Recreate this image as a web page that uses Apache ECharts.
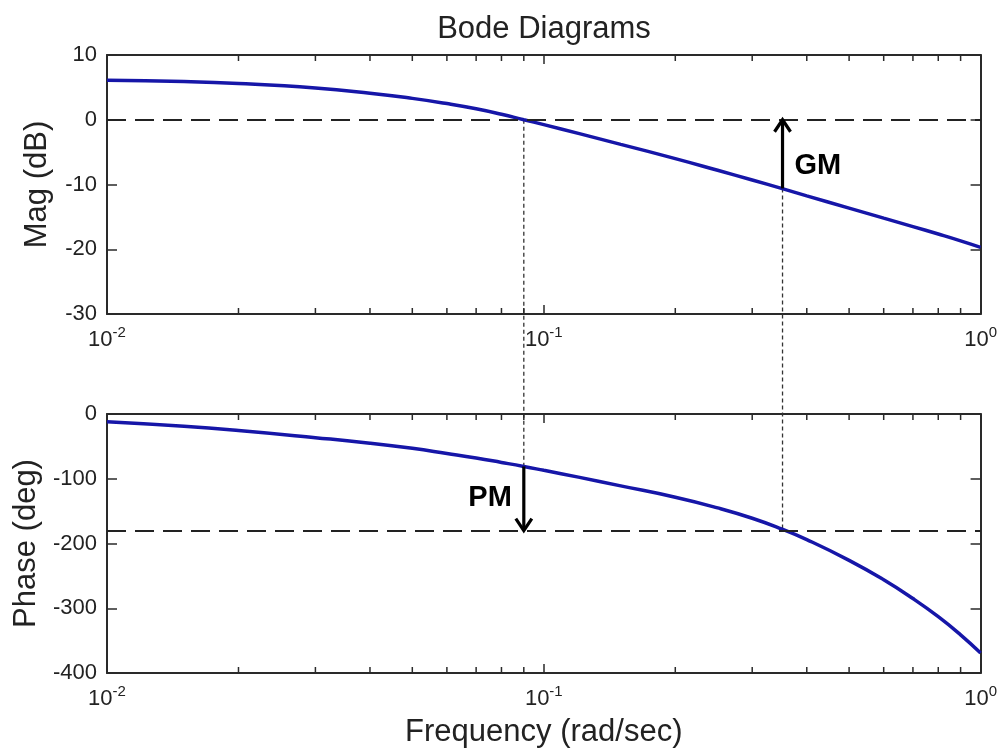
<!DOCTYPE html>
<html><head><meta charset="utf-8">
<script src="https://cdn.jsdelivr.net/npm/echarts@6/dist/echarts.min.js"></script>
<style>html,body{margin:0;padding:0;background:#fff}#c{width:1000px;height:755px}</style>
</head><body><div id="c"></div>
<script>
// ---- data ----
const freq     = [0.01,0.015,0.02,0.03,0.04,0.05,0.06,0.07,0.08,0.09,0.1,0.12,0.15,0.2,0.25,0.3,0.35,0.4,0.5,0.6,0.7,0.8,0.9,1.0];
const magDb    = [6.1,5.9,5.6,4.9,4.1,3.3,2.5,1.7,0.85,0.0,-0.75,-2.1,-3.8,-6.0,-7.8,-9.3,-10.6,-11.75,-13.65,-15.2,-16.5,-17.65,-18.7,-19.7];
const phaseDeg = [-12,-19,-25.5,-36.5,-45,-53,-61,-68,-74.8,-81,-87,-97.5,-111,-128.5,-145,-161,-177.5,-194,-226,-256,-285,-313,-341,-369];
const minorFreqs = [0.02,0.03,0.04,0.05,0.06,0.07,0.08,0.09,0.2,0.3,0.4,0.5,0.6,0.7,0.8,0.9];
const freqTicks  = [0.01, 0.1, 1];
const magTicks   = [-30, -20, -10, 0, 10];
const phaseTicks = [-400, -300, -200, -100, 0];
const refMag = 0, refPhase = -180;
const gcFreq = 0.09;   // gain crossover
const pcFreq = 0.352;  // phase crossover
const gmFrom = -10.6, gmTo = 0;
const pmFrom = -81,   pmTo = -180;
const titleText = 'Bode Diagrams';
const magName = 'Mag (dB)', phaseName = 'Phase (deg)', freqName = 'Frequency (rad/sec)';

const FONT = '"Liberation Sans", Arial, sans-serif';
const FRAME = '#2a2a2a';
const CURVE = '#1616a8';

const magMin = magTicks[0], magMax = magTicks[magTicks.length-1];
const phMin = phaseTicks[0], phMax = phaseTicks[phaseTicks.length-1];
const magInt = magTicks[1]-magTicks[0], phInt = phaseTicks[1]-phaseTicks[0];
const fMin = freqTicks[0], fMax = freqTicks[freqTicks.length-1];

function xAxisDef(grid, pos, labels, name) {
  return {
    type: 'log', logBase: 10, gridIndex: grid, position: pos, min: fMin, max: fMax,
    axisLine: {show: true, onZero: false, lineStyle: {color: FRAME, width: 2}},
    axisTick: {show: true, inside: true, length: 9, lineStyle: {color: FRAME, width: 1.5}},
    splitLine: {show: false},
    axisLabel: labels ? {
      show: true, margin: 11, color: '#222',
      formatter: v => '{b|10}{s|' + Math.round(Math.log10(v)) + '}',
      rich: {
        b: {fontSize: 22, fontFamily: FONT, color: '#222'},
        s: {fontSize: 15, fontFamily: FONT, color: '#222', padding: [0, 0, 14, 0]}
      }
    } : {show: false},
    name: name || '', nameLocation: 'middle', nameGap: 44,
    nameTextStyle: {fontSize: 31, fontFamily: FONT, color: '#222'}
  };
}
function yAxisDef(grid, pos, min, max, interval, labels, name, gap) {
  return {
    type: 'value', gridIndex: grid, position: pos, min, max, interval,
    axisLine: {show: true, onZero: false, lineStyle: {color: FRAME, width: 2}},
    axisTick: {show: true, inside: true, length: 10, lineStyle: {color: FRAME, width: 1.5}},
    splitLine: {show: false},
    axisLabel: labels ? {show: true, margin: 10, fontSize: 22, fontFamily: FONT, color: '#222'} : {show: false},
    name: name || '', nameLocation: 'middle', nameGap: gap || 0, nameRotate: 90,
    nameTextStyle: {fontSize: 31, fontFamily: FONT, color: '#222'}
  };
}
function minorTickSeries(xi, yi, ymin, ymax) {
  return {
    type: 'custom', xAxisIndex: xi, yAxisIndex: yi, silent: true, clip: false, z: 5,
    data: minorFreqs.map(f => [f, ymin]),
    renderItem(params, api) {
      const f = api.value(0);
      const b = api.coord([f, ymin]), t = api.coord([f, ymax]);
      const st = {stroke: FRAME, lineWidth: 1.5};
      return {type: 'group', children: [
        {type: 'line', shape: {x1: b[0], y1: b[1], x2: b[0], y2: b[1] - 6}, style: st},
        {type: 'line', shape: {x1: t[0], y1: t[1], x2: t[0], y2: t[1] + 6}, style: st}
      ]};
    }
  };
}
function arrowSeries(xi, yi, f, from, to, label, side) {
  return {
    type: 'custom', xAxisIndex: xi, yAxisIndex: yi, silent: true, clip: false, z: 6,
    data: [[f, from, to]],
    encode: {x: 0, y: [1, 2]},
    renderItem(params, api) {
      const p0 = api.coord([api.value(0), api.value(1)]);
      const p1 = api.coord([api.value(0), api.value(2)]);
      const dir = p1[1] > p0[1] ? 1 : -1;
      const hl = 12, hw = 8;
      const midY = (p0[1] + p1[1]) / 2;
      const st = {stroke: '#000', lineWidth: 3.2, fill: null};
      return {type: 'group', children: [
        {type: 'line', shape: {x1: p0[0], y1: p0[1], x2: p1[0], y2: p1[1] - dir * 1}, style: st},
        {type: 'polyline', shape: {points: [[p1[0] - hw, p1[1] - dir * hl], [p1[0], p1[1]], [p1[0] + hw, p1[1] - dir * hl]]}, style: st},
        {type: 'text', style: {
          text: label, x: side === 'right' ? p0[0] + 12 : p0[0] - 12,
          y: side === 'right' ? midY + 12 : midY,
          align: side === 'right' ? 'left' : 'right', verticalAlign: 'middle',
          fontSize: 29, fontWeight: 'bold', fontFamily: FONT, fill: '#000'
        }}
      ]};
    }
  };
}

const chart = echarts.init(document.getElementById('c'));
const option = {
  backgroundColor: '#fff',
  animation: false,
  title: {text: titleText, left: 539, top: 9, textAlign: 'center',
          textStyle: {fontSize: 31, fontWeight: 'normal', fontFamily: FONT, color: '#222'}},
  grid: [
    {left: 107, right: 19, top: 55, height: 259, containLabel: false},
    {left: 107, right: 19, top: 414, height: 259, containLabel: false}
  ],
  xAxis: [
    xAxisDef(0, 'bottom', true),
    xAxisDef(0, 'top', false),
    xAxisDef(1, 'bottom', true, freqName),
    xAxisDef(1, 'top', false)
  ],
  yAxis: [
    yAxisDef(0, 'left', magMin, magMax, magInt, true, magName, 54),
    yAxisDef(0, 'right', magMin, magMax, magInt, false),
    yAxisDef(1, 'left', phMin, phMax, phInt, true, phaseName, 63),
    yAxisDef(1, 'right', phMin, phMax, phInt, false)
  ],
  series: [
    {
      type: 'line', xAxisIndex: 0, yAxisIndex: 0, z: 4,
      data: freq.map((f, i) => [f, magDb[i]]),
      smooth: true, showSymbol: false, lineStyle: {color: CURVE, width: 3.5},
      markLine: {silent: true, symbol: 'none', label: {show: false},
        lineStyle: {type: [19, 9], color: '#222', width: 2}, data: [{yAxis: refMag}]}
    },
    {
      type: 'line', xAxisIndex: 2, yAxisIndex: 2, z: 4,
      data: freq.map((f, i) => [f, phaseDeg[i]]),
      smooth: true, showSymbol: false, lineStyle: {color: CURVE, width: 3.5},
      markLine: {silent: true, symbol: 'none', label: {show: false},
        lineStyle: {type: [19, 9], color: '#222', width: 2}, data: [{yAxis: refPhase}]}
    },
    minorTickSeries(0, 0, magMin, magMax),
    minorTickSeries(2, 2, phMin, phMax),
    arrowSeries(0, 0, pcFreq, gmFrom, gmTo, 'GM', 'right'),
    arrowSeries(2, 2, gcFreq, pmFrom, pmTo, 'PM', 'left')
  ]
};
chart.setOption(option);

// dotted verticals spanning both panels, positioned via the axes' scales
const g1a = chart.convertToPixel({xAxisIndex: 0, yAxisIndex: 0}, [gcFreq, refMag]);
const g1b = chart.convertToPixel({xAxisIndex: 2, yAxisIndex: 2}, [gcFreq, refPhase]);
const g2a = chart.convertToPixel({xAxisIndex: 0, yAxisIndex: 0}, [pcFreq, gmFrom]);
const g2b = chart.convertToPixel({xAxisIndex: 2, yAxisIndex: 2}, [pcFreq, refPhase]);
const dotStyle = {stroke: '#333', lineWidth: 1.3, lineDash: [4, 3]};
chart.setOption({graphic: [
  {type: 'line', z: 1, silent: true, shape: {x1: g1a[0], y1: g1a[1], x2: g1b[0], y2: g1b[1]}, style: dotStyle},
  {type: 'line', z: 1, silent: true, shape: {x1: g2a[0], y1: g2a[1], x2: g2b[0], y2: g2b[1]}, style: dotStyle}
]});
</script>
</body></html>
